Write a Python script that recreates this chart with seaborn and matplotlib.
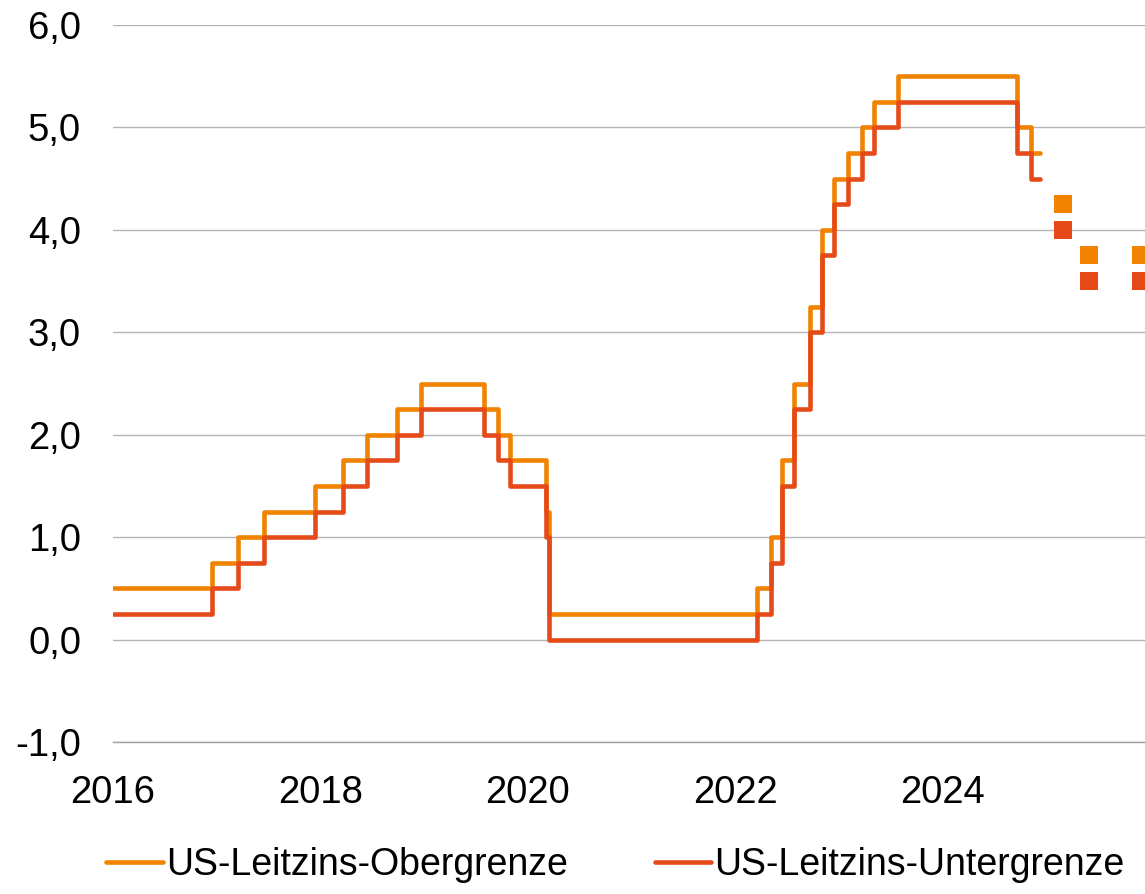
import pandas as pd
import seaborn as sns
import matplotlib.pyplot as plt
import matplotlib.dates as mdates
from matplotlib.ticker import FuncFormatter

# Fed funds target range: dates of changes and upper / lower bound
change_dates = [
    "2016-01-01", "2016-12-15", "2017-03-16", "2017-06-15", "2017-12-14",
    "2018-03-22", "2018-06-14", "2018-09-27", "2018-12-20", "2019-08-01",
    "2019-09-19", "2019-10-31", "2020-03-04", "2020-03-16", "2022-03-17",
    "2022-05-05", "2022-06-16", "2022-07-28", "2022-09-22", "2022-11-03",
    "2022-12-15", "2023-02-02", "2023-03-23", "2023-05-04", "2023-07-27",
    "2024-09-19", "2024-11-08", "2024-12-10",
]
upper = [0.50, 0.75, 1.00, 1.25, 1.50, 1.75, 2.00, 2.25, 2.50, 2.25,
         2.00, 1.75, 1.25, 0.25, 0.50, 1.00, 1.75, 2.50, 3.25, 4.00,
         4.50, 4.75, 5.00, 5.25, 5.50, 5.00, 4.75, 4.75]
lower = [0.25, 0.50, 0.75, 1.00, 1.25, 1.50, 1.75, 2.00, 2.25, 2.00,
         1.75, 1.50, 1.00, 0.00, 0.25, 0.75, 1.50, 2.25, 3.00, 3.75,
         4.25, 4.50, 4.75, 5.00, 5.25, 4.75, 4.50, 4.50]

# forecast points
forecast_dates = ["2025-03-01", "2025-06-01", "2025-12-01"]
forecast_upper = [4.25, 3.75, 3.75]
forecast_lower = [4.00, 3.50, 3.50]

label_upper = "US-Leitzins-Obergrenze"
label_lower = "US-Leitzins-Untergrenze"
col_upper = "#F18300"
col_lower = "#E54A18"

df = pd.DataFrame({"date": pd.to_datetime(change_dates), "upper": upper, "lower": lower})
fc = pd.DataFrame({"date": pd.to_datetime(forecast_dates), "upper": forecast_upper, "lower": forecast_lower})

sns.set_style("white")
plt.rcParams['font.family'] = ['Liberation Sans', 'DejaVu Sans']
plt.rcParams['text.color'] = 'black'
plt.rcParams['xtick.color'] = 'black'
plt.rcParams['ytick.color'] = 'black'

fig = plt.figure(figsize=(11.45, 8.94), dpi=100)
ax = fig.add_axes([113 / 1145, 1 - 742 / 894, 1 - 113 / 1145, (742 - 25) / 894])

sns.lineplot(data=df, x="date", y="upper", ax=ax, color=col_upper, linewidth=3.3,
             drawstyle="steps-post", label=label_upper, estimator=None)
sns.lineplot(data=df, x="date", y="lower", ax=ax, color=col_lower, linewidth=3.3,
             drawstyle="steps-post", label=label_lower, estimator=None)
sns.scatterplot(data=fc, x="date", y="upper", ax=ax, color=col_upper, marker="s",
                s=175, linewidth=0, zorder=3)
sns.scatterplot(data=fc, x="date", y="lower", ax=ax, color=col_lower, marker="s",
                s=175, linewidth=0, zorder=3)

ax.set_ylim(-1, 6)
ax.set_xlim(pd.Timestamp("2016-01-01"), pd.Timestamp("2025-12-14"))
ax.set_yticks(range(-1, 7))
ax.yaxis.set_major_formatter(FuncFormatter(lambda v, p: f"{v:.1f}".replace(".", ",")))
ax.set_xticks([pd.Timestamp(f"{y}-01-01") for y in range(2016, 2026, 2)])
ax.xaxis.set_major_formatter(mdates.DateFormatter("%Y"))
ax.set_xlabel("")
ax.set_ylabel("")
ax.tick_params(axis="y", length=0, pad=23, labelsize=27.5)
ax.tick_params(axis="x", length=0, pad=24, labelsize=27.5)
ax.grid(axis="y", color="#b4b4b4", linewidth=1)
ax.grid(axis="x", visible=False)
for side in ["top", "right", "left"]:
    ax.spines[side].set_visible(False)
ax.spines["bottom"].set_color("#a0a0a0")
ax.spines["bottom"].set_linewidth(1)

ax.legend(loc="center", bbox_to_anchor=(0.487, -0.172), ncol=2, frameon=False,
          fontsize=27, handlelength=1.5, handletextpad=0.1, columnspacing=2.3)

plt.savefig("out.png", dpi=100)
